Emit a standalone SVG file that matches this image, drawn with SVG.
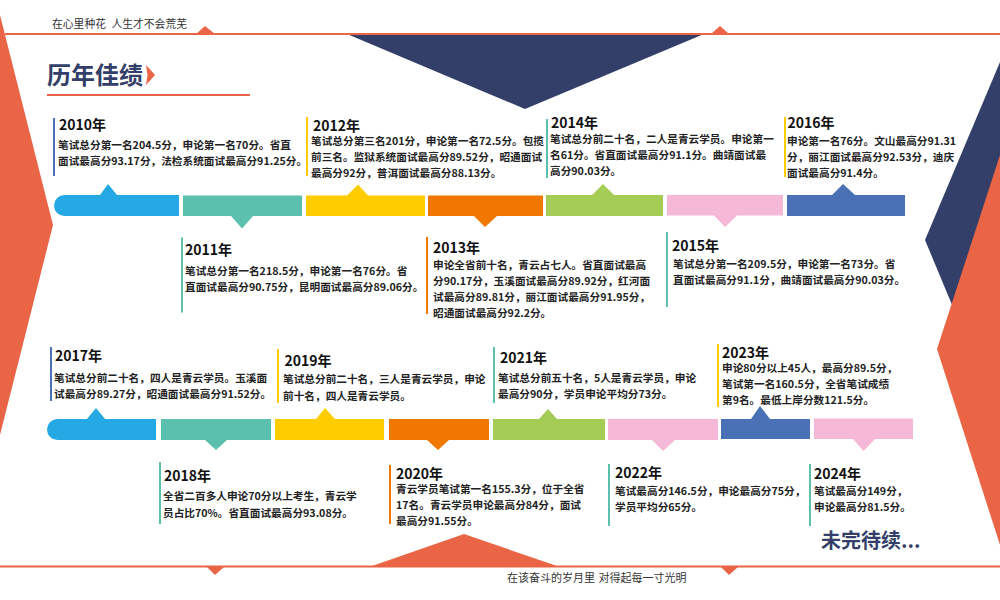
<svg xmlns="http://www.w3.org/2000/svg" width="1000" height="600" viewBox="0 0 1000 600">
<style>
text{font-family:"Noto Sans CJK SC","Noto Sans",sans-serif}
.y{font-size:14px;font-weight:700;fill:#111}
.b{font-size:10.67px;font-weight:700;fill:#222}
.n{font-size:10.8px;fill:#333}
.h{font-weight:700;fill:#333f68}
.o{fill:#ea6546}
.navy{fill:#333f68}
.blue{fill:#4a70b5}.teal{fill:#5bc0ae}.yel{fill:#ffcc00}.org{fill:#f07800}.grn{fill:#a5cd55}.pink{fill:#f5b8d6}.sky{fill:#25a9e4}
</style>
<g id="background">
<polygon class="navy" points="1000,62 925,240 1000,420"/>
<polygon class="o" points="1000,155 937,349 1000,545"/>
<polygon class="o" points="0,15 53,225 0,435"/>
<polygon class="navy" points="347,34 704,34 525,109"/>
<rect class="o" x="5" y="33" width="995" height="2"/>
<polygon class="o" points="196,34 205,26 215,34"/>
<polygon class="o" points="711,34 720,26 729,34"/>
<rect class="o" x="0" y="565.500" width="1000" height="2"/>
<polygon class="o" points="372,566 464,534 557,566"/>
<polygon class="o" points="207,567 215,575 224,567"/>
<polygon class="o" points="721,567 729,575 738,567"/>
</g>
<g id="heading">
<text class="n" x="52" y="28" style="word-spacing:3px">在心里种花 人生才不会荒芜</text>
<text class="h" x="47" y="84" font-size="24">历年佳绩</text>
<polygon class="o" points="146,65 155,75 146,85 147.500,75"/>
<rect class="o" x="47" y="94" width="203" height="2"/>
<text class="h" x="821" y="548" font-size="20">未完待续...</text>
<text class="n" x="507" y="582" style="font-size:11px;word-spacing:1px">在该奋斗的岁月里 对得起每一寸光明</text>
</g>
<g id="connectors">
<path class="sky" d="M64.500 195H100L108 184L117 195H179V216H64.500A10.500 10.500 0 0 1 64.500 195Z"/>
<path class="teal" d="M183 195.500H302V216H253L242 228.500L231 216H183Z"/>
<path class="yel" d="M306 195.500H347L358 184.500L368 195.500H425V216H306Z"/>
<path class="org" d="M428 195.500H543V216H497L485 227L474 216H428Z"/>
<path class="grn" d="M546 195H592L603 184L614 195H663V216H546Z"/>
<path class="pink" d="M667 195H783V215.500H737L725 227L714 215.500H667Z"/>
<path class="blue" d="M787 195H832L843 184L855 195H905V216H787Z"/>
<path class="sky" d="M57.500 419H87L96 408L105 419H156V440H57.500A10.500 10.500 0 0 1 57.500 419Z"/>
<path class="teal" d="M161 419H271V440H227L216 450L205 440H161Z"/>
<path class="yel" d="M275 419H316L325 408L335 419H384V440H275Z"/>
<path class="org" d="M389 419H489V440H449L438 450L427 440H389Z"/>
<path class="grn" d="M493 419H539L548 409L557 419H605V440H493Z"/>
<path class="pink" d="M608 419H718V440H675L663 451L652 440H608Z"/>
<path class="blue" d="M721 419H751L760 406L770 419H810V439H721Z"/>
<path class="pink" d="M814 418.500H913V439H875L863.500 451L853 439H814Z"/>
</g>
<g id="y2010"><rect class="blue" x="53" y="118" width="2" height="58"/><text class="y" x="59" y="130">2010年</text><text class="b" x="58" y="149">笔试总分第一名204.5分，申论第一名70分。省直</text><text class="b" x="58" y="165">面试最高分93.17分，法检系统面试最高分91.25分。</text></g>
<g id="y2011"><rect class="teal" x="181" y="237.500" width="2" height="75"/><text class="y" x="185" y="255">2011年</text><text class="b" x="185" y="275">笔试总分第一名218.5分，申论第一名76分。省</text><text class="b" x="185" y="291">直面试最高分90.75分，昆明面试最高分89.06分。</text></g>
<g id="y2012"><rect class="yel" x="306" y="117" width="2" height="59"/><text class="y" x="313" y="131">2012年</text><text class="b" x="311" y="145">笔试总分第三名201分，申论第一名72.5分。包揽</text><text class="b" x="311" y="161">前三名。监狱系统面试最高分89.52分，昭通面试</text><text class="b" x="311" y="177">最高分92分，普洱面试最高分88.13分。</text></g>
<g id="y2013"><rect class="org" x="426" y="237" width="2" height="77"/><text class="y" x="433" y="253">2013年</text><text class="b" x="433" y="269">申论全省前十名，青云占七人。省直面试最高</text><text class="b" x="433" y="285">分90.17分，玉溪面试最高分89.92分，红河面</text><text class="b" x="433" y="301">试最高分89.81分，丽江面试最高分91.95分，</text><text class="b" x="433" y="317">昭通面试最高分92.2分。</text></g>
<g id="y2014"><rect class="teal" x="546" y="119" width="2" height="59"/><text class="y" x="551" y="128">2014年</text><text class="b" x="550" y="143">笔试总分前二十名，二人是青云学员。申论第一</text><text class="b" x="550" y="159">名61分。省直面试最高分91.1分。曲靖面试最</text><text class="b" x="550" y="175">高分90.03分。</text></g>
<g id="y2015"><rect class="teal" x="666" y="232" width="2" height="75"/><text class="y" x="672" y="251">2015年</text><text class="b" x="673" y="268">笔试总分第一名209.5分，申论第一名73分。省</text><text class="b" x="673" y="284">直面试最高分91.1分，曲靖面试最高分90.03分。</text></g>
<g id="y2016"><rect class="yel" x="784" y="117" width="2" height="60"/><text class="y" x="787.500" y="128">2016年</text><text class="b" x="787" y="145">申论第一名76分。文山最高分91.31</text><text class="b" x="787" y="161">分，丽江面试最高分92.53分，迪庆</text><text class="b" x="787" y="177">面试最高分91.4分。</text></g>
<g id="y2017"><rect class="blue" x="50" y="347" width="2" height="54"/><text class="y" x="55" y="361">2017年</text><text class="b" x="54" y="382">笔试总分前二十名，四人是青云学员。玉溪面</text><text class="b" x="54" y="398">试最高分89.27分，昭通面试最高分91.52分。</text></g>
<g id="y2018"><rect class="teal" x="159" y="462" width="2" height="62"/><text class="y" x="164" y="481">2018年</text><text class="b" x="163" y="500">全省二百多人申论70分以上考生，青云学</text><text class="b" x="163" y="517">员占比70%。省直面试最高分93.08分。</text></g>
<g id="y2019"><rect class="yel" x="277" y="349" width="2" height="54"/><text class="y" x="284.500" y="366">2019年</text><text class="b" x="283" y="383">笔试总分前二十名，三人是青云学员，申论</text><text class="b" x="283" y="400">前十名，四人是青云学员。</text></g>
<g id="y2020"><rect class="org" x="389" y="465" width="2" height="59"/><text class="y" x="396" y="479">2020年</text><text class="b" x="396" y="493">青云学员笔试第一名155.3分，位于全省</text><text class="b" x="396" y="509">17名。青云学员申论最高分84分，面试</text><text class="b" x="396" y="525">最高分91.55分。</text></g>
<g id="y2021"><rect class="teal" x="493" y="347" width="2" height="56"/><text class="y" x="500" y="363">2021年</text><text class="b" x="498" y="382">笔试总分前五十名，5人是青云学员，申论</text><text class="b" x="498" y="398">最高分90分，学员申论平均分73分。</text></g>
<g id="y2022"><rect class="teal" x="608" y="464" width="2" height="62"/><text class="y" x="615" y="478">2022年</text><text class="b" x="615" y="495">笔试最高分146.5分，申论最高分75分，</text><text class="b" x="615" y="511">学员平均分65分。</text></g>
<g id="y2023"><rect class="yel" x="717" y="344" width="2" height="63"/><text class="y" x="722" y="358">2023年</text><text class="b" x="722" y="372">申论80分以上45人，最高分89.5分，</text><text class="b" x="722" y="388">笔试第一名160.5分，全省笔试成绩</text><text class="b" x="722" y="404">第9名。最低上岸分数121.5分。</text></g>
<g id="y2024"><rect class="teal" x="809" y="464" width="2" height="62"/><text class="y" x="814" y="479">2024年</text><text class="b" x="814" y="495">笔试最高分149分，</text><text class="b" x="814" y="511">申论最高分81.5分。</text></g>
</svg>
